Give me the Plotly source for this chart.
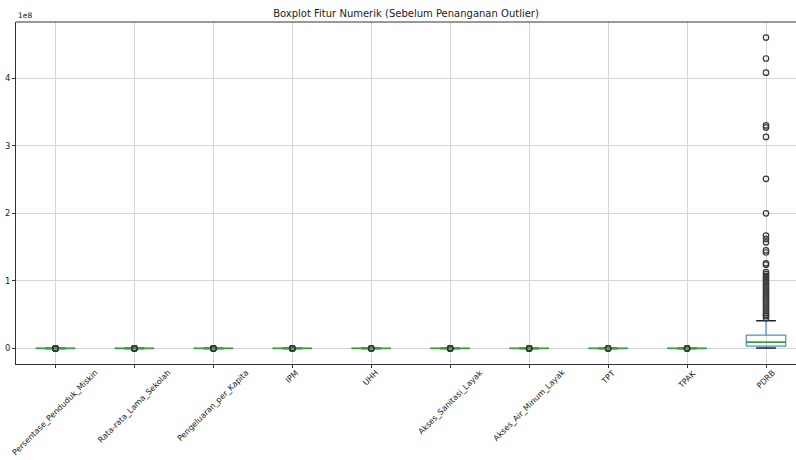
import plotly.graph_objects as go

# Numeric features, in plotting order
columns = ['Persentase_Penduduk_Miskin', 'Rata-rata_Lama_Sekolah', 'Pengeluaran_per_Kapita',
           'IPM', 'UHH', 'Akses_Sanitasi_Layak', 'Akses_Air_Minum_Layak', 'TPT', 'TPAK', 'PDRB']

# Box statistics per feature (Q1, median, Q3, lower whisker, upper whisker)
q1 = [6.8, 7.4, 8900, 67.2, 66.8, 72.5, 80.6, 3.1, 64.8, 3.4e6]
median = [9.9, 8.3, 10300, 70.4, 69.6, 82.3, 89.4, 4.6, 68.9, 9.3e6]
q3 = [14.2, 9.3, 11900, 73.6, 71.2, 89.0, 95.1, 6.1, 73.6, 1.96e7]
whisker_low = [1.7, 4.6, 4600, 58.2, 60.5, 49.1, 59.7, 0.4, 52.1, 0.6e6]
whisker_high = [25.1, 12.0, 16300, 82.9, 75.0, 100.0, 100.0, 10.5, 86.4, 4.1e7]

# Points beyond the whiskers
outliers = [
    [26.0, 27.4, 28.1, 30.2, 33.5, 36.8, 41.7],
    [1.2, 2.6, 3.4, 4.1, 12.3],
    [3900, 16800, 17400, 18400, 19600, 23900],
    [32.8, 48.4, 51.3, 55.6, 86.6],
    [55.4, 57.9, 59.7],
    [9.8, 22.6, 31.5, 40.2, 44.7],
    [18.5, 34.3, 42.1, 51.8, 56.4],
    [10.8, 11.4, 12.6],
    [46.2, 48.9, 87.8, 90.5],
    [4.60e8, 4.29e8, 4.08e8, 3.30e8, 3.27e8, 3.13e8, 2.51e8, 2.00e8, 1.67e8, 1.62e8,
     1.57e8, 1.45e8, 1.42e8, 1.26e8, 1.24e8, 1.13e8, 1.10e8, 1.07e8, 1.04e8, 1.01e8,
     0.98e8, 0.95e8, 0.92e8, 0.89e8, 0.86e8, 0.83e8, 0.80e8, 0.77e8, 0.74e8, 0.71e8,
     0.68e8, 0.65e8, 0.62e8, 0.59e8, 0.56e8, 0.53e8, 0.50e8, 0.48e8, 0.45e8],
]

y_ticks = [0, 1e8, 2e8, 3e8, 4e8]
y_tick_labels = ['0', '1', '2', '3', '4']

FONT = 'DejaVu Sans'
TEXT_COLOR = '#222222'
BOX_COLOR = '#4a8fc9'
MEDIAN_COLOR = '#3ca03c'
CAP_COLOR = '#222222'
HALF = 0.25  # half box width in category units

positions = list(range(1, len(columns) + 1))

box_x, box_y, wh_x, wh_y, cap_x, cap_y, med_x, med_y = [], [], [], [], [], [], [], []
fl_x, fl_y = [], []
for p, a, m, b, lo, hi, outs in zip(positions, q1, median, q3, whisker_low, whisker_high, outliers):
    box_x += [p - HALF, p + HALF, p + HALF, p - HALF, p - HALF, None]
    box_y += [a, a, b, b, a, None]
    wh_x += [p, p, None, p, p, None]
    wh_y += [a, lo, None, b, hi, None]
    cap_x += [p - HALF / 2, p + HALF / 2, None, p - HALF / 2, p + HALF / 2, None]
    cap_y += [lo, lo, None, hi, hi, None]
    med_x += [p - HALF, p + HALF, None]
    med_y += [m, m, None]
    fl_x += [p] * len(outs)
    fl_y += outs

fig = go.Figure()
fig.add_trace(go.Scatter(x=box_x, y=box_y, mode='lines', line=dict(color=BOX_COLOR, width=1.2),
                         hoverinfo='skip', showlegend=False))
fig.add_trace(go.Scatter(x=wh_x, y=wh_y, mode='lines', line=dict(color=BOX_COLOR, width=1.2),
                         hoverinfo='skip', showlegend=False))
fig.add_trace(go.Scatter(x=cap_x, y=cap_y, mode='lines', line=dict(color=CAP_COLOR, width=1.5),
                         hoverinfo='skip', showlegend=False))
fig.add_trace(go.Scatter(x=med_x, y=med_y, mode='lines', line=dict(color=MEDIAN_COLOR, width=1.7),
                         hoverinfo='skip', showlegend=False))
fig.add_trace(go.Scatter(x=fl_x, y=fl_y, mode='markers',
                         marker=dict(symbol='circle-open', size=5.5, color='#3a3a3a', line=dict(width=1.2)),
                         showlegend=False))

axis_font = dict(family=FONT, size=8.4, color=TEXT_COLOR)
label_font = dict(family=FONT, size=8.0, color=TEXT_COLOR)

# the plot area runs past the right edge of the figure, so the last slot is clipped
fig.update_xaxes(range=[0.5, 10.38], tickvals=positions, ticktext=[''] * len(columns),
                 ticks='outside', ticklen=3, tickcolor='#333333',
                 showgrid=True, gridcolor='#d6d6d6', gridwidth=1, zeroline=False,
                 showline=True, linecolor='#333333', linewidth=1)
fig.update_yaxes(range=[-0.23e8, 4.83e8], tickvals=y_ticks, ticktext=y_tick_labels,
                 ticks='outside', ticklen=3, tickcolor='#333333', tickfont=axis_font,
                 showgrid=True, gridcolor='#d6d6d6', gridwidth=1, zeroline=False,
                 showline=True, linecolor='#333333', linewidth=1)

# rotated category labels, centred under each tick
for p, name in zip(positions, columns):
    fig.add_annotation(text=name, x=p, xref='x', y=0, yref='paper',
                       xanchor='center', yanchor='top', yshift=-3, textangle=-45,
                       showarrow=False, borderpad=0, font=label_font)

# top spine
fig.add_shape(type='line', xref='paper', yref='paper', x0=0, x1=1, y0=1, y1=1,
              line=dict(color='#333333', width=1))

# axis offset label
fig.add_annotation(text='1e8', xref='paper', yref='paper', x=0, y=1, xanchor='left',
                   yanchor='bottom', yshift=0, showarrow=False,
                   font=dict(family=FONT, size=7.5, color=TEXT_COLOR))

fig.update_layout(
    width=796, height=460,
    margin=dict(l=16, r=0, t=22, b=96),
    paper_bgcolor='white', plot_bgcolor='white',
    title=dict(text='Boxplot Fitur Numerik (Sebelum Penanganan Outlier)',
               x=0.5, xref='paper', xanchor='center',
               y=1 - 13 / 460, yref='container', yanchor='middle',
               font=dict(family=FONT, size=10, color=TEXT_COLOR)),
)

fig.write_html('out.html')
